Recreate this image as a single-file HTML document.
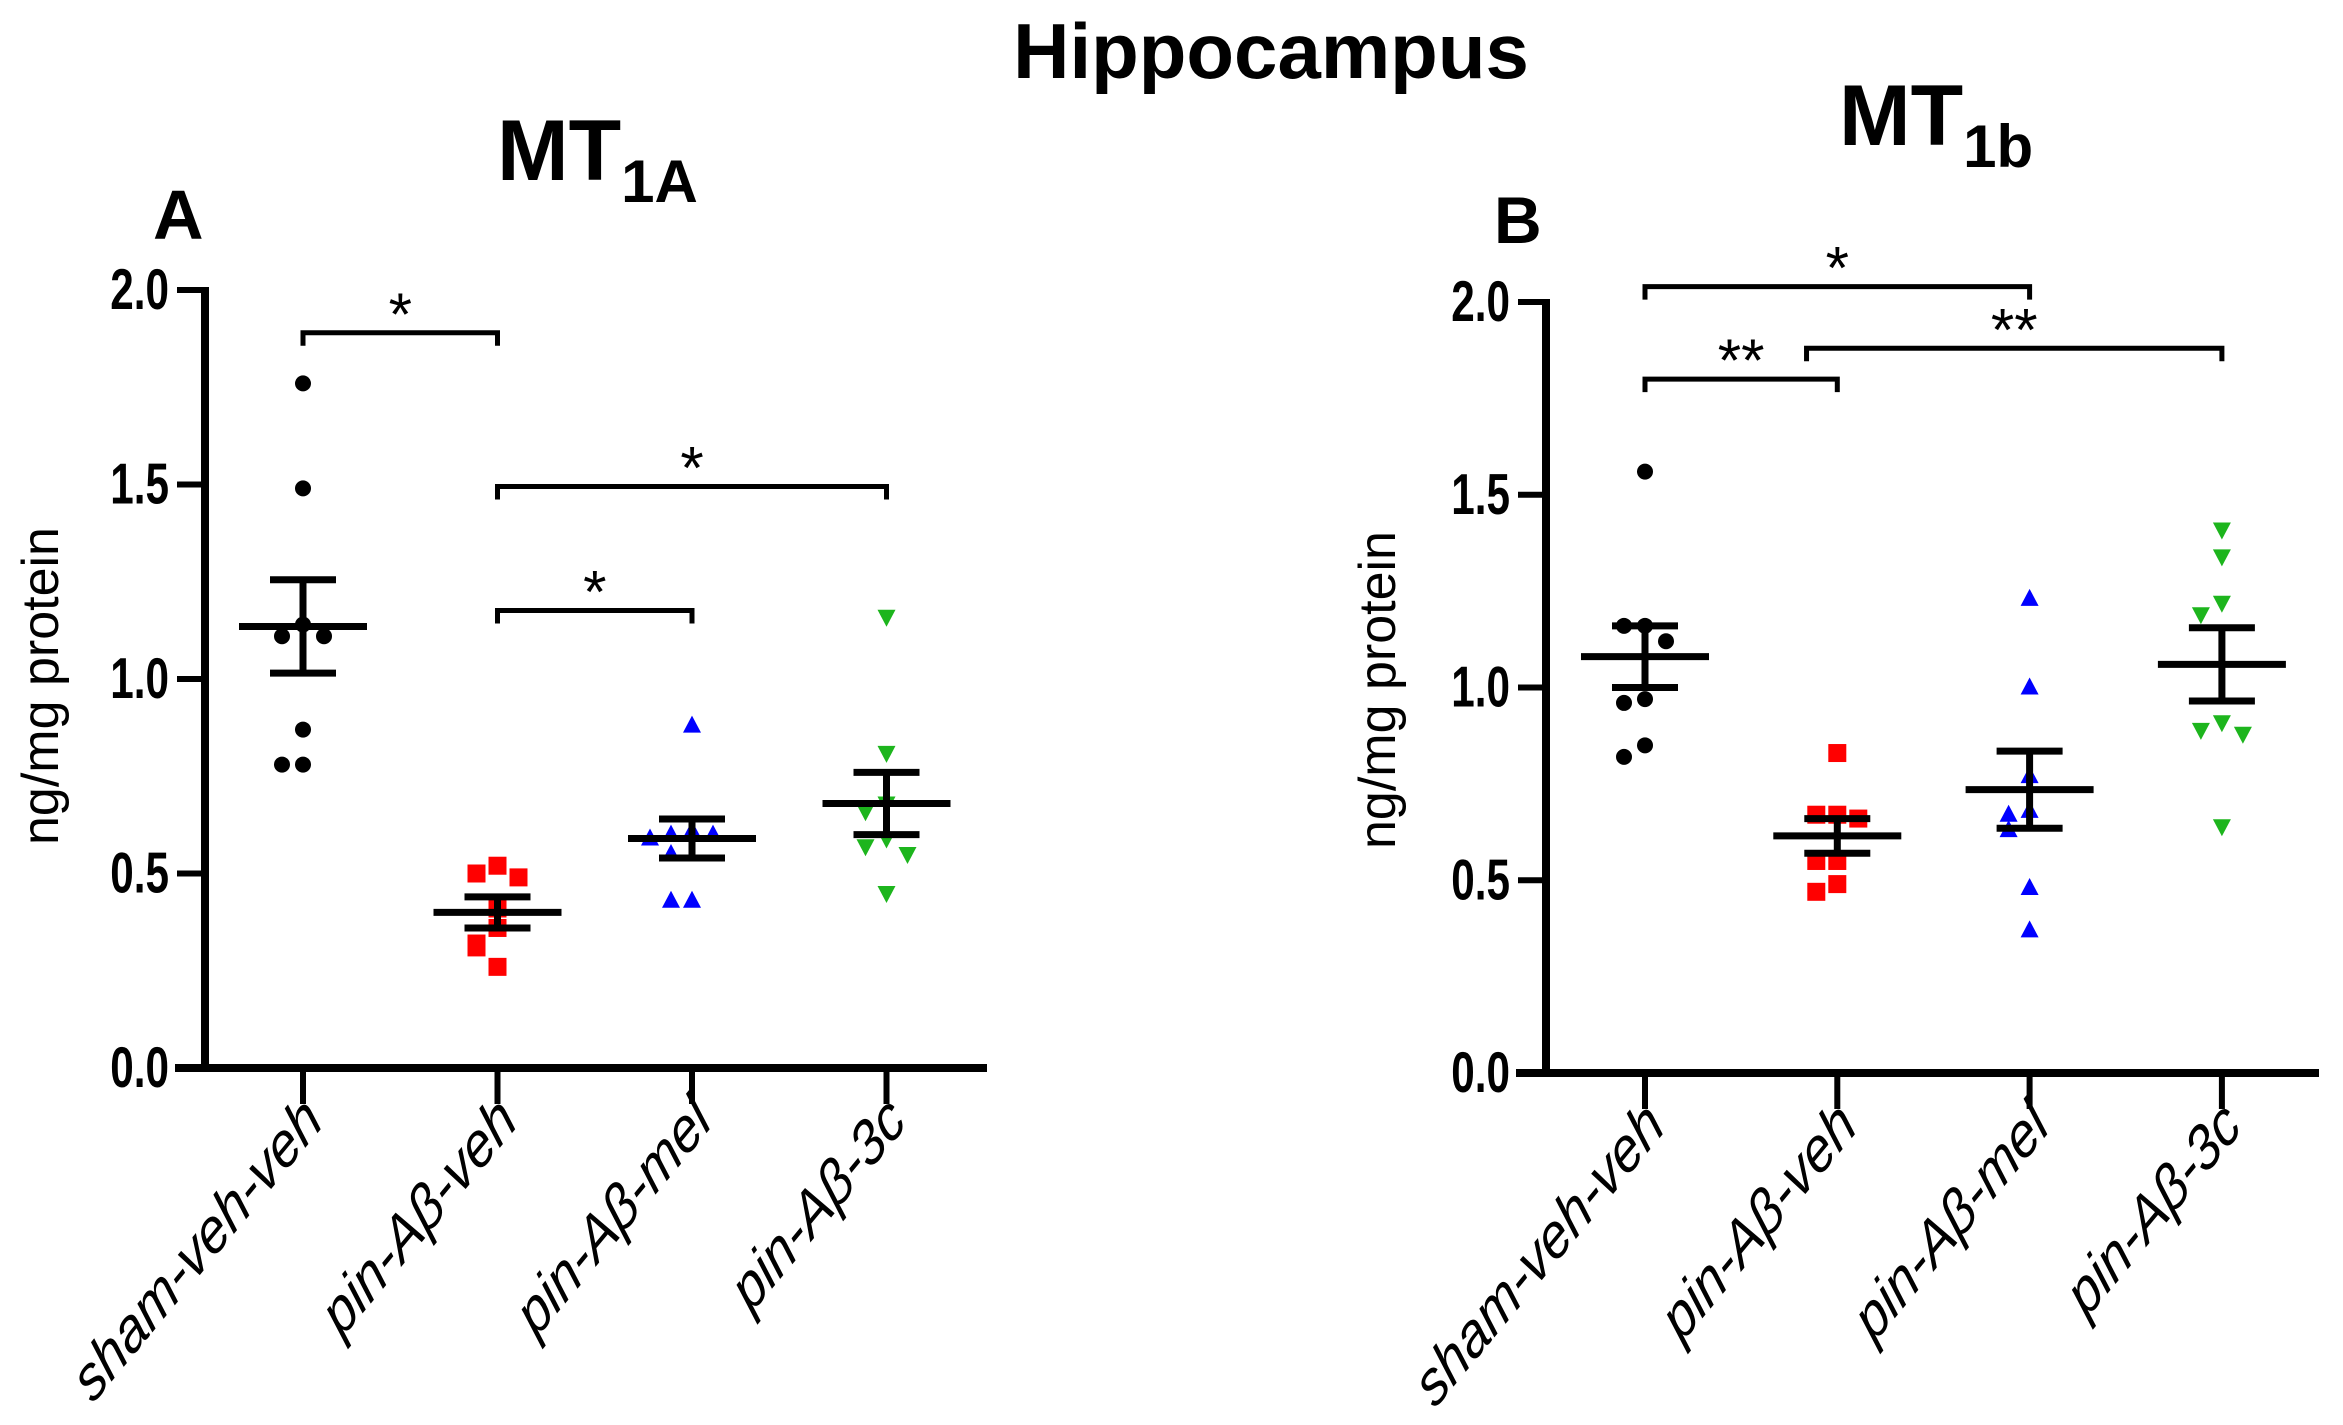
<!DOCTYPE html>
<html><head><meta charset="utf-8"><style>
html,body{margin:0;padding:0;background:#fff;}
svg{display:block;font-family:"Liberation Sans",sans-serif;}
</style></head><body>
<svg id="chart" width="2343" height="1425" viewBox="0 0 2343 1425">
<text x="1271" y="78" font-size="78" font-weight="bold" text-anchor="middle">Hippocampus</text>
<text x="497" y="180" font-size="86" font-weight="bold">MT<tspan font-size="60" dy="22">1A</tspan></text>
<text x="153" y="239" font-size="70" font-weight="bold">A</text>
<text x="1839" y="145" font-size="86" font-weight="bold">MT<tspan font-size="60" dy="22">1b</tspan></text>
<text x="1494" y="243" font-size="66" font-weight="bold">B</text>
<g id="pa"></g>
<g id="pb"></g>
</svg>
<script>
const categories = ["sham-veh-veh","pin-A\u03b2-veh","pin-A\u03b2-mel","pin-A\u03b2-3c"];
const yTicks = [0,0.5,1.0,1.5,2.0];
const yTickLabels = ["0.0","0.5","1.0","1.5","2.0"];
const colors = ["#000","#f00","#00f","#1db51d"];
const shapes = ["circle","square","tri-up","tri-down"];
// Panel A (MT1A) values
const aSham = [1.76,1.49,1.14,1.11,1.11,0.87,0.78,0.78];
const aVeh = [0.52,0.50,0.49,0.41,0.36,0.32,0.31,0.26];
const aMel = [0.88,0.61,0.60,0.60,0.59,0.55,0.43,0.43];
const aC3 = [1.16,0.81,0.68,0.66,0.59,0.57,0.55,0.45];
const aMean = [1.135,0.40,0.59,0.68];
const aSem = [0.12,0.04,0.05,0.08];
const aBrFrom = [0,1,1], aBrTo = [1,3,2], aBrY = [1.89,1.495,1.176], aBrLbl = ["*","*","*"];
// Panel B (MT1b) values
const bSham = [1.56,1.16,1.16,1.12,0.97,0.96,0.85,0.82];
const bVeh = [0.83,0.67,0.67,0.66,0.55,0.55,0.49,0.47];
const bMel = [1.23,1.00,0.77,0.68,0.67,0.63,0.48,0.37];
const bC3 = [1.41,1.34,1.22,1.19,0.91,0.89,0.88,0.64];
const bMean = [1.08,0.615,0.735,1.06];
const bSem = [0.08,0.045,0.10,0.095];
const bBrFrom = [0,0,0.84], bBrTo = [2,1,3], bBrY = [2.04,1.80,1.88], bBrLbl = ["*","**","**"];

const NS="http://www.w3.org/2000/svg";
function mk(parent,tag,attrs){const e=document.createElementNS(NS,tag);for(const k in attrs)e.setAttribute(k,attrs[k]);parent.appendChild(e);return e;}

function drawPanel(g,cfg,groups,means,sems,brFrom,brTo,brY,brLbl){
  const yS=v=>cfg.y0-v*cfg.unit;
  const xS=i=>cfg.ax+cfg.off+i*cfg.step;
  let e=mk(g,'line',{x1:cfg.ax,y1:yS(2)-3,x2:cfg.ax,y2:yS(0)+4,stroke:'#000','stroke-width':8});
  
  
  e=mk(g,'line',{x1:cfg.ax-30,y1:yS(0),x2:cfg.axEnd,y2:yS(0),stroke:'#000','stroke-width':8});
  
  
  yTicks.forEach((t,i)=>{
    let l=mk(g,'line',{x1:cfg.ax-28,y1:yS(t),x2:cfg.ax,y2:yS(t),stroke:'#000','stroke-width':6});
    
    
    let tx=mk(g,'text',{x:0,y:0,'font-size':48,'font-weight':'bold','text-anchor':'end',transform:`translate(${cfg.ax-36},${yS(t)+19}) scale(0.88,1.2)`});
    tx.textContent=yTickLabels[i];
    
    
  });
  let yt=mk(g,'text',{x:0,y:0,'font-size':52,'text-anchor':'middle',transform:`translate(${cfg.titleX},${cfg.titleY}) rotate(-90)`});
  yt.textContent="ng/mg protein";
  
  
  categories.forEach((c,i)=>{
    let l=mk(g,'line',{x1:xS(i),y1:yS(0),x2:xS(i),y2:yS(0)+36,stroke:'#000','stroke-width':6});
    
    
    let tx=mk(g,'text',{x:0,y:0,'font-size':51,'font-style':'italic','text-anchor':'end',transform:`translate(${xS(i)+22},${yS(0)+56}) scale(1,1.25) rotate(-44)`});
    tx.textContent=c;
    
    
  });
  groups.forEach((vals,gi)=>{
    const placed=[];
    vals.forEach(v=>{
      const near=placed.filter(p=>Math.abs(p-v)<0.045).length;
      placed.push(v);
      const off = near===0?0:(near%2===1?-1:1)*Math.ceil(near/2)*21;
      const cx=xS(gi)+off, cy=yS(v);
      let m;
      if(shapes[gi]==='circle') m=mk(g,'circle',{cx:cx,cy:cy,r:8,fill:colors[gi]});
      else if(shapes[gi]==='square') m=mk(g,'rect',{x:cx-9,y:cy-9,width:18,height:18,fill:colors[gi]});
      else if(shapes[gi]==='tri-up') m=mk(g,'polygon',{points:`${cx},${cy-10} ${cx-9},${cy+7} ${cx+9},${cy+7}`,fill:colors[gi]});
      else m=mk(g,'polygon',{points:`${cx},${cy+10} ${cx-9},${cy-7} ${cx+9},${cy-7}`,fill:colors[gi]});
      
      
    });
  });
  means.forEach((mv,i)=>{
    const x=xS(i);
    let a=mk(g,'line',{x1:x-64,y1:yS(mv),x2:x+64,y2:yS(mv),stroke:'#000','stroke-width':7});
    
    
    let b=mk(g,'path',{d:`M${x-33},${yS(mv+sems[i])}H${x+33}M${x},${yS(mv+sems[i])}V${yS(mv-sems[i])}M${x-33},${yS(mv-sems[i])}H${x+33}`,stroke:'#000','stroke-width':7,fill:'none'});
    
    
  });
  brFrom.forEach((f,i)=>{
    const x1=xS(f),x2=xS(brTo[i]),y=yS(brY[i]);
    let p=mk(g,'path',{d:`M${x1},${y+13}V${y}H${x2}V${y+13}`,stroke:'#000','stroke-width':5,fill:'none'});
    
    
    let t=mk(g,'text',{x:(x1+x2)/2,y:y+2,'font-size':60,'text-anchor':'middle'});
    t.textContent=brLbl[i];
    
    
  });
}
drawPanel(document.getElementById('pa'),{ax:205,off:98,step:194.5,y0:1068,unit:389,axEnd:987,titleX:58,titleY:686},
  [aSham,aVeh,aMel,aC3],aMean,aSem,aBrFrom,aBrTo,aBrY,aBrLbl);
drawPanel(document.getElementById('pb'),{ax:1546,off:99,step:192.3,y0:1073,unit:385.5,axEnd:2319,titleX:1395,titleY:690},
  [bSham,bVeh,bMel,bC3],bMean,bSem,bBrFrom,bBrTo,bBrY,bBrLbl);
</script>
</body></html>
